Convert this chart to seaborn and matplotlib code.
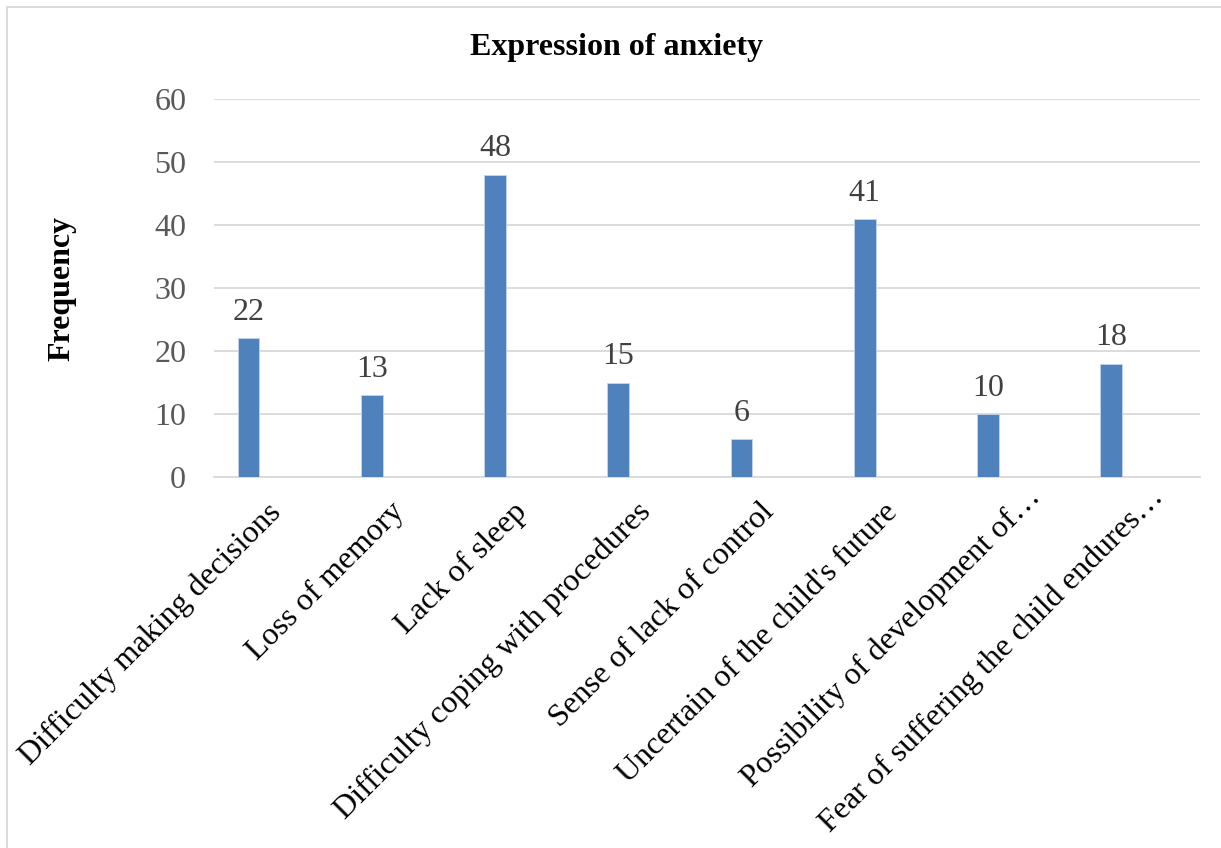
import matplotlib
matplotlib.use("Agg")
import matplotlib.pyplot as plt
import matplotlib.transforms as mtransforms
from matplotlib.patches import Rectangle
import seaborn as sns
import pandas as pd

categories = [
    "Difficulty making decisions",
    "Loss of memory",
    "Lack of sleep",
    "Difficulty coping with procedures",
    "Sense of lack of control",
    "Uncertain of the child's future",
    "Possibility of development of\u2026",
    "Fear of suffering the child endures\u2026",
]
frequency = [22, 13, 48, 15, 6, 41, 10, 18]
y_ticks = [0, 10, 20, 30, 40, 50, 60]

df = pd.DataFrame({"category": categories, "frequency": frequency})

sns.set_theme(style="white")
plt.rcParams["font.family"] = ["Liberation Serif", "DejaVu Serif"]

W, H = 1221, 848
fig = plt.figure(figsize=(W / 100, H / 100), dpi=100)
fig.patch.set_facecolor("white")

# chart frame
fig.patches.append(Rectangle((7 / W, -0.1), 1.2, 1 - 7 / H + 0.1,
                             transform=fig.transFigure, fill=False,
                             edgecolor="#d9d9d9", linewidth=1.3))

ax = fig.add_axes([214 / W, (H - 477) / H, 986 / W, 378 / H])
sns.barplot(data=df, x="category", y="frequency", color="#4f81bd",
            width=0.175, saturation=1, ax=ax, zorder=3)
for p in ax.patches:
    p.set_edgecolor("#c6d4e8")
    p.set_linewidth(0.6)

ax.set_ylim(0, 60)
ax.set_xlim(-0.28, 7.72)
ax.set_yticks(y_ticks)
ax.set_yticklabels([str(t) for t in y_ticks], fontsize=23, color="#595959")
ax.tick_params(axis="y", length=0, pad=20)
ax.tick_params(axis="x", length=0, pad=0)
ax.yaxis.grid(True, color="#d9d9d9", linewidth=1.3, zorder=0)
for s in ["top", "right", "left"]:
    ax.spines[s].set_visible(False)
ax.spines["bottom"].set_color("#d9d9d9")
ax.spines["bottom"].set_linewidth(1.3)
ax.set_xlabel("")
ax.set_ylabel("")

ax.set_xticks(range(len(categories)))
ax.set_xticklabels(categories, rotation=45, ha="right", va="center",
                   rotation_mode="anchor", fontsize=23, color="black")
for lbl in ax.get_xticklabels():
    dx, dy = 28, -31
    if lbl.get_text().endswith("\u2026"):
        # truncated labels sit a little further out
        dx, dy = dx + 20, dy + 15
    off = mtransforms.ScaledTranslation(dx / 100, dy / 100, fig.dpi_scale_trans)
    lbl.set_transform(lbl.get_transform() + off)

ax.bar_label(ax.containers[0], labels=[str(v) for v in frequency],
             padding=8, fontsize=23, color="#404040")

fig.text(617 / W, 1 - 48 / H, "Expression of anxiety", ha="center", va="center",
         fontsize=23, fontweight="bold", color="black")
fig.text(62 / W, 1 - 288 / H, "Frequency", ha="center", va="center",
         rotation=90, fontsize=23, fontweight="bold", color="black")

fig.savefig("out.png", dpi=100, facecolor="white")
